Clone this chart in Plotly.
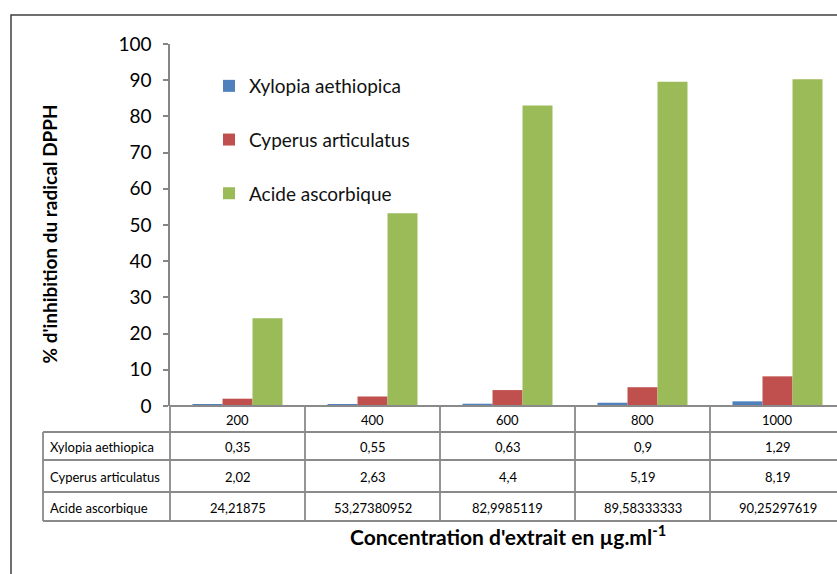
import plotly.graph_objects as go

# Data
categories = ["200", "400", "600", "800", "1000"]
series_names = ["Xylopia aethiopica", "Cyperus articulatus", "Acide ascorbique"]
xylopia = [0.35, 0.55, 0.63, 0.9, 1.29]
cyperus = [2.02, 2.63, 4.4, 5.19, 8.19]
ascorbique = [24.21875, 53.27380952, 82.9985119, 89.58333333, 90.25297619]
series_values = [xylopia, cyperus, ascorbique]
colors = ["#4F81BD", "#C0504D", "#9BBB59"]
y_ticks = [0, 10, 20, 30, 40, 50, 60, 70, 80, 90, 100]

# Page geometry (pixels)
W, H = 837, 574
PLOT_L = 170          # y-axis position
CAT_W = 135           # width of one category column
Y0_PX, Y100_PX = 406, 44
TABLE_L = 43          # left border of the data table
ROW_EDGES = [406, 432, 460, 492, 521]  # table row boundaries
FONT = "Lato"

def fx(px):
    return px / W

def fy(px):
    return (H - px) / H

x_lo = -0.5
x_hi = -0.5 + (W - PLOT_L) / CAT_W

fig = go.Figure()

for name, vals, col in zip(series_names, series_values, colors):
    fig.add_bar(x=categories, y=vals, name=name, marker_color=col,
                marker_line_width=0, legendgroup=name, hoverinfo="y")

# Data table grid (drawn on its own axes sharing the category scale)
tbl_left = -0.5 - (PLOT_L - TABLE_L) / CAT_W
n = len(categories)
gx, gy = [], []
# horizontal rules
gx += [-0.5, n - 0.5, None]
gy += [ROW_EDGES[0], ROW_EDGES[0], None]
for e in ROW_EDGES[1:]:
    gx += [tbl_left, n - 0.5, None]
    gy += [e, e, None]
# vertical rules
gx += [tbl_left, tbl_left, None]
gy += [ROW_EDGES[1], ROW_EDGES[-1], None]
for i in range(n + 1):
    gx += [i - 0.5, i - 0.5, None]
    gy += [ROW_EDGES[0], ROW_EDGES[-1], None]
fig.add_scatter(x=gx, y=gy, mode="lines", xaxis="x2", yaxis="y2",
                line=dict(color="#8a8a8a", width=1.8), showlegend=False,
                hoverinfo="skip")

annotations = []
def row_mid(r):
    return (ROW_EDGES[r] + ROW_EDGES[r + 1]) / 2 + 1

cell_font = dict(family=FONT, size=13, color="#000")
for i, c in enumerate(categories):
    annotations.append(dict(x=i, y=row_mid(0), xref="x2", yref="y2", text=c,
                            showarrow=False, font=cell_font))
for r, (name, vals) in enumerate(zip(series_names, series_values), start=1):
    annotations.append(dict(x=tbl_left + 5 / CAT_W, y=row_mid(r), xref="x2", yref="y2",
                            text=name, showarrow=False, xanchor="left", font=cell_font))
    for i, v in enumerate(vals):
        annotations.append(dict(x=i, y=row_mid(r), xref="x2", yref="y2",
                                text=str(v).replace(".", ","), showarrow=False,
                                font=cell_font))

# Axis titles
annotations.append(dict(x=fx(35), y=fy(234), xref="paper", yref="paper",
                        text="<b>% d'inhibition du radical DPPH</b>", textangle=-90,
                        showarrow=False, font=dict(family=FONT, size=19, color="#000")))
annotations.append(dict(x=fx(508), y=fy(551), xref="paper", yref="paper",
                        text="<b>Concentration d'extrait en µg.ml<sup>-1</sup></b>",
                        showarrow=False, font=dict(family=FONT, size=21, color="#000")))

fig.update_layout(
    width=W, height=H,
    margin=dict(l=0, r=0, t=0, b=0, autoexpand=False),
    paper_bgcolor="white", plot_bgcolor="rgba(0,0,0,0)",
    barmode="group", bargap=1 / 3, bargroupgap=0,
    font=dict(family=FONT, color="#000"),
    xaxis=dict(domain=[fx(PLOT_L), 1], range=[x_lo, x_hi], type="category",
               showticklabels=False, ticks="", showline=False, showgrid=False,
               zeroline=False, fixedrange=True, automargin=False),
    yaxis=dict(domain=[fy(Y0_PX), fy(Y100_PX)], range=[0, 100], tickvals=y_ticks,
               ticks="outside", ticklen=5, tickwidth=1.5, tickcolor="#868686",
               showline=True, linecolor="#868686", linewidth=1.5,
               showgrid=False, zeroline=False, ticklabelstandoff=8, automargin=False,
               tickfont=dict(family=FONT, size=19, color="#000"), fixedrange=True),
    xaxis2=dict(domain=[fx(TABLE_L - 3), 1], anchor="y2", automargin=False,
                range=[tbl_left - 3 / CAT_W, x_hi], visible=False, fixedrange=True),
    yaxis2=dict(domain=[fy(ROW_EDGES[-1] + 4), fy(ROW_EDGES[0] - 4)], anchor="x2",
                range=[ROW_EDGES[-1] + 4, ROW_EDGES[0] - 4], visible=False,
                fixedrange=True, automargin=False),
    legend=dict(x=fx(209), y=fy(67), xanchor="left", yanchor="top",
                bgcolor="rgba(0,0,0,0)", tracegroupgap=26,
                font=dict(family=FONT, size=19, color="#111")),
    annotations=annotations,
    shapes=[dict(type="rect", xref="paper", yref="paper", x0=fx(11), x1=1.05,
                 y0=-0.05, y1=fy(15), line=dict(color="#404040", width=1.5),
                 layer="below")],
)

fig.write_html("out.html")
